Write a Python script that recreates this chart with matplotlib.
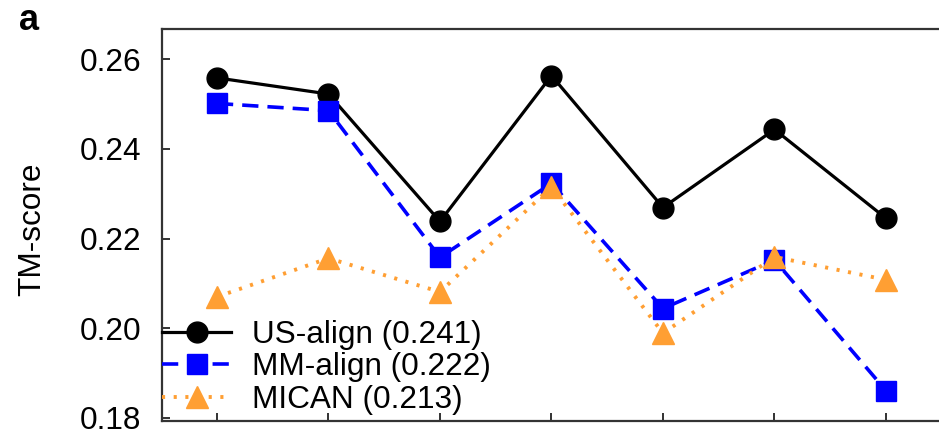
import numpy as np
import matplotlib
matplotlib.use('Agg')
import matplotlib.pyplot as plt

# values
cases = [1, 2, 3, 4, 5, 6, 7]
usalign = [0.2558, 0.2522, 0.2238, 0.2563, 0.2269, 0.2443, 0.2245]
mmalign = [0.2501, 0.2485, 0.2158, 0.2323, 0.2044, 0.2152, 0.1861]
mican = [0.2070, 0.2156, 0.2081, 0.2315, 0.1989, 0.2159, 0.2108]
labels = ['US-align (0.241)', 'MM-align (0.222)', 'MICAN (0.213)']
yticks = [0.18, 0.20, 0.22, 0.24, 0.26]

plt.rcParams['font.family'] = ['Liberation Sans', 'DejaVu Sans']
fs = 22.7
orange = '#ff9f33'

fig = plt.figure(figsize=(9.39, 4.36), dpi=100)
W, H = 939, 436
ax = fig.add_axes([162/W, 1-421/H, (950-162)/W, (421-29)/H])

ax.plot(cases, usalign, color='black', lw=2.3, marker='o', ms=15, label=labels[0])
ax.plot(cases, mmalign, color='blue', lw=2.6, ls=(0, (4.5, 2.5)), marker='s', ms=14.5, label=labels[1])
ax.plot(cases, mican, color=orange, lw=2.8, ls=(0, (0.8, 2.2)), marker='^', ms=15.5, label=labels[2])

ax.set_xlim(0.507, 7.574)
ax.set_ylim(0.17933, 0.26669)
ax.set_xticks(cases)
ax.set_xticklabels([])
ax.set_yticks(yticks)
ax.set_yticklabels(['%.2f' % v for v in yticks], fontsize=fs)
ax.tick_params(direction='in', length=6, width=1.3, color='#222222', pad=15)
ax.tick_params(axis='x', labelbottom=False)
for s in ax.spines.values():
    s.set_linewidth(1.6)
    s.set_color('#333333')
ax.spines['right'].set_visible(False)

ax.set_ylabel('TM-score', fontsize=fs)
ax.yaxis.set_label_coords(-0.146, 0.49)

ax.legend(loc='lower left', bbox_to_anchor=(-0.008, 0.0), frameon=False, fontsize=fs,
          handlelength=2.2, handletextpad=0.66, labelspacing=0.08,
          borderaxespad=0, borderpad=0.2)

fig.text(19/W, 1-30/H, 'a', fontsize=26, fontweight='bold', va='baseline')

fig.savefig('out.png', dpi=100)
